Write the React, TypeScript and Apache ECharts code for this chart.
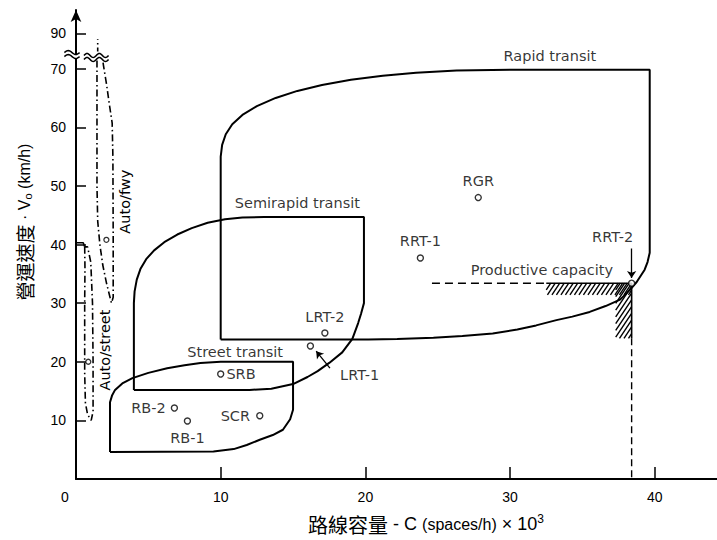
import React, { useEffect, useRef } from "react";
import * as echarts from "echarts";

// ---------- data ----------
const xTickValues = [0, 10, 20, 30, 40];
const yTickValues = [10, 20, 30, 40, 50, 60, 70, 76];
const yTickLabels = ["10", "20", "30", "40", "50", "60", "70", "90"];

const rapidTransit = [
  [10, 23.8], [10, 55], [10.1, 57], [10.35, 58.8], [10.8, 60.5], [11.5, 62.1], [12.5, 63.6],
  [13.8, 65], [15.3, 66.2], [17, 67.2], [19, 68.1], [21.2, 68.8], [23.5, 69.3], [26.3, 69.7],
  [30, 69.8], [39.65, 69.8],
  [39.65, 38.6], [39.5, 37], [39.3, 35.7], [38.75, 33.6], [38.3, 32.3], [37.6, 30.6],
  [36.6, 29.5], [35.5, 28.5], [34.3, 27.7], [33.2, 27.1], [31.8, 26.2], [30.5, 25.5], [28.8, 24.8],
  [26.7, 24.4], [24.7, 24.1], [22.2, 23.9], [20.2, 23.8], [10, 23.8],
];
const semirapidTransit = [
  [4, 15.2], [4, 30], [4.05, 32], [4.2, 34], [4.45, 35.8], [4.85, 37.5], [5.4, 39], [6.1, 40.4],
  [7, 41.7], [8, 42.8], [9.1, 43.7], [10.3, 44.3], [11.5, 44.6], [13, 44.7], [19.9, 44.7],
  [19.9, 30], [19.7, 28.2], [19.5, 26.6], [19.1, 23.9], [18.4, 21.6], [17.5, 19.8], [16.7, 18.4],
  [16, 17.4], [15, 16.2], [13.5, 15.4], [12, 15.2], [4, 15.2],
];
const streetTransit = [
  [2.35, 4.6], [2.35, 13.1], [2.5, 14.3], [2.7, 15.2], [3.2, 16.3], [3.9, 17.2], [5, 18.1], [6.3, 18.9],
  [7.5, 19.4], [8.6, 19.8], [10, 20], [15, 20], [15, 11.8], [14.8, 10.2], [14.3, 8.4], [13.6, 7.5],
  [12.7, 6.7], [11.8, 5.8], [10.9, 5.1], [9.5, 4.7], [2.35, 4.6],
];
const autoStreetCap = [[0, 40.3], [0.5, 40.3], [0.6, 39.6]];
const autoStreetLoop = [
  [0.6, 39.6], [0.62, 36], [0.6, 30], [0.6, 18], [0.65, 13], [0.8, 11], [1.05, 10],
  [1.18, 11.5], [1.18, 20], [1.14, 30], [1.02, 37], [0.8, 39.6], [0.6, 39.6],
];
const autoFwyLoop = [
  [1.45, 71.4], [1.45, 50], [1.5, 44], [1.65, 40], [1.85, 36.5], [2.1, 33.5], [2.35, 31], [2.45, 30],
  [2.57, 31], [2.57, 42], [2.55, 55], [2.5, 60.7], [2.3, 64], [2.1, 67.5], [1.9, 70.5], [1.85, 71.4],
];
const autoFwyAbove = [[1.5, 72.9], [1.5, 75]];

const pointNames = ["RGR", "RRT-1", "RRT-2", "LRT-2", "LRT-1", "SRB", "RB-2", "RB-1", "SCR"];
const pointX = [27.8, 23.8, 38.4, 17.2, 16.2, 10.0, 6.8, 7.7, 12.7];
const pointY = [48.0, 37.7, 33.4, 24.9, 22.7, 17.9, 12.1, 9.9, 10.8];
const autoMarkerX = [0.85, 2.1];
const autoMarkerY = [20, 40.8];

const productiveCapacityDashed = [[24.6, 33.4], [32.5, 33.4]];
const productiveCapacityEdge = [[32.5, 33.4], [38.4, 33.4], [38.4, 24]];
const capacityDrop = [[38.4, 24], [38.4, 0]];
const hatchBands = [[32.5, 33.4, 38.4, 31.4], [37.3, 33.4, 38.4, 24]];
const rrt2Arrow = [[38.4, 39.3], [38.4, 34.3]];
const lrt1Arrow = [[17.55, 18.9], [16.6, 21.8]];
const breakMarks = [[-0.8, 0.25, 72.4], [0.55, 2.25, 71.9]];

const regionLabels = ["Rapid transit", "Semirapid transit", "Street transit", "Productive capacity"];
const regionLabelX = [32.75, 15.3, 11, 32.2];
const regionLabelY = [72.2, 47.1, 21.7, 35.7];
const rotatedLabels = ["Auto/fwy", "Auto/street"];
const rotatedLabelX = [3.4, 2.0];
const rotatedLabelY = [47.3, 22];

// ---------- chart ----------
const FONT = "'Liberation Sans', Arial, sans-serif";
const LABEL_FONT = "'DejaVu Sans', 'Liberation Sans', sans-serif";
const CJK = "'Noto Sans CJK TC', 'Noto Sans CJK SC', sans-serif";

function buildOption() {
  const shapeLine = (data: number[][], extra: any = {}) => ({
    type: "line",
    data,
    symbol: "none",
    showSymbol: false,
    silent: true,
    lineStyle: { color: "#000", width: 2, ...extra },
    z: 3,
  });

  const labelCfg: Record<string, any> = {
    RGR: { position: "top", distance: 5 },
    "RRT-1": { position: "top", distance: 6 },
    "RRT-2": { position: "top", distance: 5, offset: [-19, -30] },
    "LRT-2": { position: "top", distance: 5 },
    "LRT-1": { position: "right", distance: 26, offset: [0, 29] },
    SRB: { position: "right", distance: 2 },
    "RB-2": { position: "left", distance: 5 },
    "RB-1": { position: "bottom", distance: 6 },
    SCR: { position: "left", distance: 6 },
  };

  return {
    animation: false,
    backgroundColor: "#fff",
    grid: { left: 76, right: 0, top: 10, bottom: 61, containLabel: false },
    xAxis: {
      type: "value",
      min: 0,
      max: 44.3,
      interval: 10,
      splitLine: { show: false },
      axisLine: { lineStyle: { color: "#000", width: 2 } },
      axisTick: { inside: true, length: 12, lineStyle: { color: "#000", width: 1.5 }, customValues: xTickValues },
      axisLabel: {
        customValues: xTickValues,
        margin: 11,
        color: "#000",
        fontSize: 14,
        fontFamily: FONT,
        formatter: (v: number) => (v === 0 ? "{z|0}" : String(v)),
        rich: { z: { padding: [0, 22, 0, 0], fontSize: 14, fontFamily: FONT, color: "#000" } },
      },
    },
    yAxis: {
      type: "value",
      min: 0,
      max: 80,
      interval: 10,
      splitLine: { show: false },
      axisLine: { symbol: ["none", "arrow"], symbolSize: [8, 12], lineStyle: { color: "#000", width: 2 } },
      axisTick: { inside: true, length: 10, lineStyle: { color: "#000", width: 1.5 }, customValues: yTickValues },
      axisLabel: {
        customValues: yTickValues,
        margin: 10,
        color: "#000",
        fontSize: 14,
        fontFamily: FONT,
        formatter: (v: number) => {
          const i = yTickValues.indexOf(v);
          return i >= 0 ? yTickLabels[i] : "";
        },
      },
    },
    graphic: [
      {
        type: "text",
        x: 426,
        y: 524,
        style: {
          text: "{c|路線容量}{n| - C }{s|(spaces/h)}{n| × 10}{sup|3}",
          align: "center",
          verticalAlign: "middle",
          fill: "#000",
          rich: {
            c: { fontFamily: CJK, fontSize: 20, lineHeight: 22, fill: "#000", letterSpacing: 6 },
            n: { fontFamily: FONT, fontSize: 18, lineHeight: 22, fill: "#000" },
            s: { fontFamily: FONT, fontSize: 16, lineHeight: 22, fill: "#000" },
            sup: { fontFamily: FONT, fontSize: 12, lineHeight: 22, fill: "#000", verticalAlign: "top" },
          },
        },
      },
      {
        type: "text",
        x: 24,
        y: 222,
        rotation: Math.PI / 2,
        style: {
          text: "{c|營運速度}{n| · V}{sub|o}{n| (km/h)}",
          align: "center",
          verticalAlign: "middle",
          fill: "#000",
          rich: {
            c: { fontFamily: CJK, fontSize: 19, fill: "#000", letterSpacing: 4 },
            n: { fontFamily: FONT, fontSize: 16, fill: "#000" },
            sub: { fontFamily: FONT, fontSize: 11, fill: "#000", verticalAlign: "bottom" },
          },
        },
      },
    ],
    series: [
      shapeLine(rapidTransit),
      shapeLine(semirapidTransit),
      shapeLine(streetTransit),
      shapeLine(autoStreetCap, { width: 1.6 }),
      shapeLine(autoStreetLoop, { width: 1.6, type: [7, 3, 1.5, 3] }),
      shapeLine(autoFwyLoop, { width: 1.6, type: [7, 3, 1.5, 3] }),
      shapeLine(autoFwyAbove, { width: 1.6, type: [4, 3, 1.5, 3] }),
      shapeLine(productiveCapacityDashed, { width: 1.4, type: [8, 5] }),
      shapeLine(productiveCapacityEdge, { width: 1.6 }),
      shapeLine(capacityDrop, { width: 1.4, type: [7, 4] }),
      {
        type: "custom",
        silent: true,
        clip: false,
        z: 4,
        encode: { x: [0, 2], y: [1, 3] },
        data: hatchBands,
        renderItem: (params: any, api: any) => {
          const a = api.coord([api.value(0), api.value(1)]);
          const b = api.coord([api.value(2), api.value(3)]);
          const L = Math.min(a[0], b[0]);
          const R = Math.max(a[0], b[0]);
          const T = Math.min(a[1], b[1]);
          const B = Math.max(a[1], b[1]);
          const s = 1.5;
          const w = (B - T) / s;
          const step = 4.5;
          const children: any[] = [];
          for (let c = L - w; c < R; c += step) {
            const x0 = Math.max(c, L);
            const x1 = Math.min(c + w, R);
            if (x1 <= x0) continue;
            children.push({
              type: "line",
              shape: { x1: x0, y1: B - (x0 - c) * s, x2: x1, y2: B - (x1 - c) * s },
              style: { stroke: "#000", lineWidth: 1.4 },
            });
          }
          return { type: "group", children };
        },
      },
      {
        type: "custom",
        silent: true,
        clip: false,
        z: 6,
        encode: { x: [0, 1], y: 2 },
        data: breakMarks,
        renderItem: (params: any, api: any) => {
          const a = api.coord([api.value(0), api.value(2)]);
          const b = api.coord([api.value(1), api.value(2)]);
          const L = a[0];
          const R = b[0];
          const c = a[1];
          const gap = 4;
          const amp = 2;
          const periods = Math.max(1, Math.round((R - L) / 12));
          const n = 20 * periods;
          const top: number[][] = [];
          const bot: number[][] = [];
          for (let i = 0; i <= n; i++) {
            const t = i / n;
            const x = L + t * (R - L);
            const dy = -amp * Math.sin(2 * Math.PI * periods * t);
            top.push([x, c - gap / 2 + dy]);
            bot.push([x, c + gap / 2 + dy]);
          }
          return {
            type: "group",
            children: [
              { type: "polygon", shape: { points: top.concat(bot.slice().reverse()) }, style: { fill: "#fff", stroke: null } },
              { type: "polyline", shape: { points: top }, style: { stroke: "#000", lineWidth: 1.5, fill: null } },
              { type: "polyline", shape: { points: bot }, style: { stroke: "#000", lineWidth: 1.5, fill: null } },
            ],
          };
        },
      },
      {
        type: "custom",
        silent: true,
        clip: false,
        z: 7,
        encode: { x: 0, y: 1 },
        data: rotatedLabels.map((t, i) => [rotatedLabelX[i], rotatedLabelY[i], i]),
        renderItem: (params: any, api: any) => {
          const p = api.coord([api.value(0), api.value(1)]);
          return {
            type: "text",
            x: p[0],
            y: p[1],
            rotation: Math.PI / 2,
            style: {
              text: rotatedLabels[api.value(2)],
              fill: "#000",
              align: "center",
              verticalAlign: "middle",
              fontSize: 14.5,
              fontFamily: LABEL_FONT,
            },
          };
        },
      },
      {
        type: "lines",
        coordinateSystem: "cartesian2d",
        silent: true,
        z: 5,
        symbol: ["none", "arrow"],
        symbolSize: 7,
        lineStyle: { color: "#000", width: 1.3, opacity: 1 },
        data: [{ coords: rrt2Arrow }, { coords: lrt1Arrow }],
      },
      {
        type: "scatter",
        silent: true,
        z: 7,
        symbol: "circle",
        symbolSize: 6,
        itemStyle: { color: "#fff", borderColor: "#000", borderWidth: 1.4 },
        label: { show: true, formatter: "{b}", color: "#000", fontSize: 14.5, fontFamily: LABEL_FONT },
        data: pointNames.map((n, i) => ({ name: n, value: [pointX[i], pointY[i]], label: labelCfg[n] })),
      },
      {
        type: "scatter",
        silent: true,
        z: 7,
        symbol: "circle",
        symbolSize: 5,
        itemStyle: { color: "#fff", borderColor: "#000", borderWidth: 1.3 },
        data: autoMarkerX.map((x, i) => [x, autoMarkerY[i]]),
      },
      {
        type: "scatter",
        silent: true,
        z: 7,
        symbolSize: 0,
        itemStyle: { color: "#000" },
        data: regionLabels.map((t, i) => ({ name: t, value: [regionLabelX[i], regionLabelY[i]] })),
        label: {
          show: true,
          position: "inside",
          formatter: "{b}",
          color: "#000",
          textBorderWidth: 0,
          fontSize: 14.5,
          fontFamily: LABEL_FONT,
        },
      },
    ],
  };
}

export default function App() {
  const ref = useRef<HTMLDivElement>(null);
  useEffect(() => {
    if (!ref.current) return;
    const chart = echarts.init(ref.current, null, { renderer: "svg" });
    chart.setOption(buildOption() as any);
    return () => chart.dispose();
  }, []);
  return (
    <div
      ref={ref}
      style={{ position: "fixed", left: 0, top: 0, width: 717, height: 540, background: "#fff" }}
    />
  );
}
